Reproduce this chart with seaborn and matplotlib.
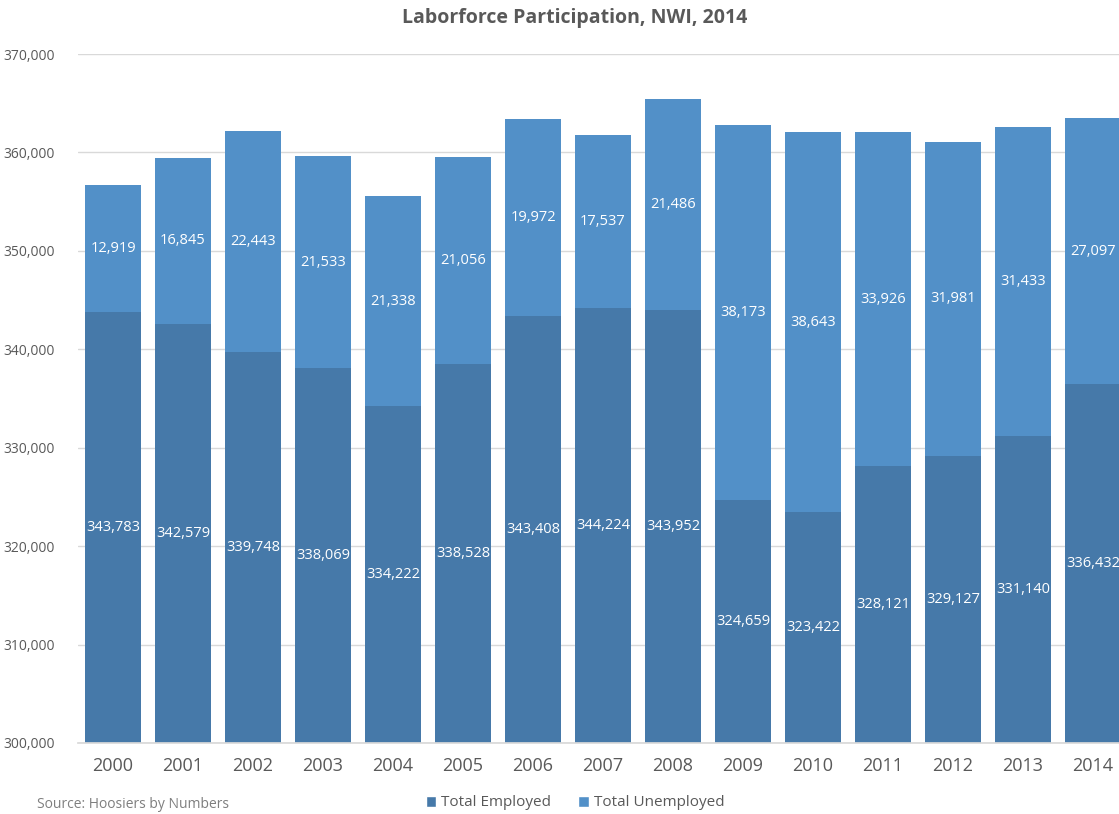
import matplotlib
matplotlib.use("Agg")
import matplotlib.pyplot as plt
import seaborn as sns
import pandas as pd
from matplotlib.patches import Patch

years = ["2000", "2001", "2002", "2003", "2004", "2005", "2006", "2007",
         "2008", "2009", "2010", "2011", "2012", "2013", "2014"]
employed = [343783, 342579, 339748, 338069, 334222, 338528, 343408, 344224,
            343952, 324659, 323422, 328121, 329127, 331140, 336432]
unemployed = [12919, 16845, 22443, 21533, 21338, 21056, 19972, 17537,
              21486, 38173, 38643, 33926, 31981, 31433, 27097]

df = pd.DataFrame({"year": years, "employed": employed, "unemployed": unemployed})
df["total"] = df["employed"] + df["unemployed"]

C_EMP = "#4679A9"
C_UNE = "#5290C8"
GRAY = "#595959"

sns.set_theme(style="white")
plt.rcParams["font.family"] = ["Open Sans", "DejaVu Sans"]

fig = plt.figure(figsize=(11.19, 8.14), dpi=100)
ax = fig.add_axes([78 / 1119, (814 - 743) / 814, 1050 / 1119, (743 - 54) / 814])

sns.barplot(data=df, x="year", y="total", color=C_UNE, saturation=1, width=0.8,
            linewidth=0, ax=ax, zorder=2)
sns.barplot(data=df, x="year", y="employed", color=C_EMP, saturation=1, width=0.8,
            linewidth=0, ax=ax, zorder=3)

ymin, ymax = 300000, 370000
ax.set_ylim(ymin, ymax)
ax.set_xlim(-0.5, len(years) - 0.5)
ax.set_yticks(range(300000, 370001, 10000))
ax.set_yticklabels([f"{v:,}" for v in range(300000, 370001, 10000)])
ax.yaxis.grid(True, color="#D9D9D9", linewidth=1, zorder=0)
ax.set_axisbelow(True)
for s in ["top", "right", "left"]:
    ax.spines[s].set_visible(False)
ax.spines["bottom"].set_color("#D9D9D9")
ax.spines["bottom"].set_zorder(4)
ax.tick_params(axis="y", length=0, pad=17, labelsize=10, labelcolor=GRAY)
ax.tick_params(axis="x", length=0, pad=10, labelsize=13, labelcolor=GRAY)
ax.set_xlabel("")
ax.set_ylabel("")

for i, (e, u) in enumerate(zip(employed, unemployed)):
    ax.text(i, (ymin + e) / 2, f"{e:,}", ha="center", va="center",
            color="white", fontsize=10.5, zorder=5)
    ax.text(i, e + u / 2, f"{u:,}", ha="center", va="center",
            color="white", fontsize=10.5, zorder=5)

fig.text(575 / 1119, 1 - 18 / 814, "Laborforce Participation, NWI, 2014",
         ha="center", va="center", fontsize=14, fontweight="bold", color=GRAY)

handles = [Patch(facecolor=C_EMP, label="Total Employed"),
           Patch(facecolor=C_UNE, label="Total Unemployed")]
fig.legend(handles=handles, loc="center", bbox_to_anchor=(575 / 1119, 1 - 803 / 814),
           ncol=2, frameon=False, fontsize=11, labelcolor=GRAY,
           handlelength=0.7, handleheight=0.7, handletextpad=0.3, columnspacing=1.8)

fig.text(37 / 1119, 1 - 804 / 814, "Source: Hoosiers by Numbers",
         ha="left", va="center", fontsize=10, color="#7F7F7F")

fig.savefig("out.png", dpi=100)
